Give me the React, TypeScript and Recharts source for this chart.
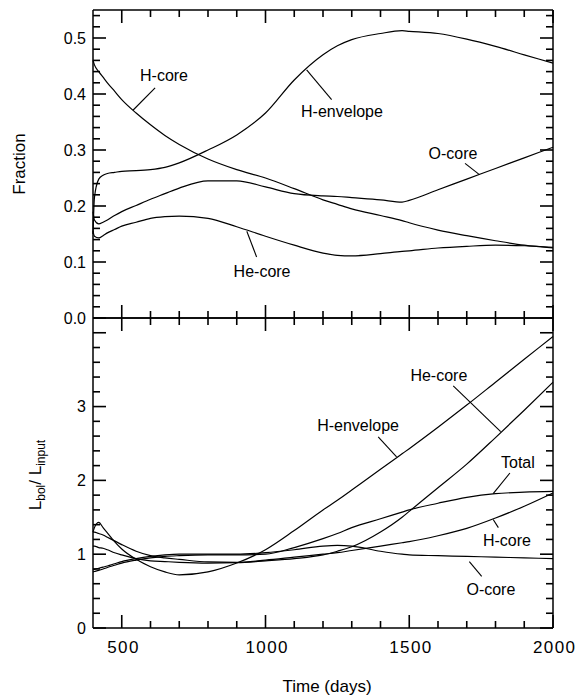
import React from 'react';
import { LineChart, Line, XAxis, YAxis, ReferenceLine, ReferenceDot } from 'recharts';

// shared time grid (days)
const TIME = [400, 405, 420, 435, 450, 475, 500, 550, 600, 650, 700, 800, 900, 1000, 1100, 1200, 1250, 1300, 1400, 1475, 1500, 1600, 1700, 1800, 1900, 2000];

// upper panel: Fraction
const FRAC_H_CORE = [0.46, 0.452, 0.44, 0.43, 0.42, 0.405, 0.39, 0.366, 0.345, 0.326, 0.31, 0.284, 0.265, 0.25, 0.231, 0.211, 0.203, 0.195, 0.183, 0.174, 0.17, 0.157, 0.147, 0.138, 0.13, 0.125];
const FRAC_H_ENV = [0.15, 0.215, 0.248, 0.255, 0.258, 0.26, 0.262, 0.263, 0.265, 0.269, 0.277, 0.3, 0.327, 0.366, 0.425, 0.47, 0.486, 0.497, 0.508, 0.513, 0.512, 0.508, 0.498, 0.485, 0.47, 0.455];
const FRAC_O_CORE = [0.19, 0.175, 0.168, 0.171, 0.175, 0.183, 0.19, 0.201, 0.212, 0.222, 0.232, 0.245, 0.245, 0.234, 0.222, 0.218, 0.217, 0.215, 0.211, 0.207, 0.21, 0.229, 0.248, 0.267, 0.286, 0.305];
const FRAC_HE_CORE = [0.155, 0.146, 0.143, 0.147, 0.152, 0.158, 0.164, 0.171, 0.178, 0.181, 0.182, 0.178, 0.163, 0.146, 0.13, 0.116, 0.112, 0.111, 0.115, 0.119, 0.12, 0.125, 0.128, 0.13, 0.129, 0.126];

// lower panel: L_bol / L_input
const LUM_H_ENV = [1.3, 1.36, 1.43, 1.36, 1.29, 1.17, 1.07, 0.93, 0.83, 0.76, 0.72, 0.76, 0.88, 1.06, 1.32, 1.6, 1.73, 1.87, 2.15, 2.36, 2.43, 2.72, 3.02, 3.33, 3.64, 3.95];
const LUM_H_CORE = [1.3, 1.3, 1.28, 1.26, 1.23, 1.18, 1.13, 1.04, 0.98, 0.95, 0.93, 0.895, 0.89, 0.92, 0.96, 1.0, 1.02, 1.05, 1.11, 1.155, 1.17, 1.25, 1.35, 1.49, 1.65, 1.83];
const LUM_HE_CORE = [1.11, 1.11, 1.09, 1.08, 1.06, 1.02, 0.99, 0.94, 0.91, 0.9, 0.89, 0.88, 0.885, 0.91, 0.94, 0.99, 1.04, 1.1, 1.3, 1.5, 1.58, 1.9, 2.22, 2.58, 2.95, 3.33];
const LUM_TOTAL = [0.76, 0.765, 0.78, 0.8, 0.82, 0.85, 0.88, 0.92, 0.95, 0.97, 0.98, 0.99, 0.99, 1.0, 1.09, 1.21, 1.28, 1.36, 1.48, 1.57, 1.6, 1.69, 1.77, 1.82, 1.84, 1.85];
const LUM_O_CORE = [0.79, 0.795, 0.81, 0.825, 0.84, 0.87, 0.9, 0.94, 0.97, 0.99, 1.0, 1.0, 1.0, 1.02, 1.06, 1.11, 1.12, 1.11, 1.04, 1.0, 0.99, 0.98, 0.97, 0.96, 0.95, 0.94];

// ticks
const X_TICKS = [500, 600, 700, 800, 900, 1000, 1100, 1200, 1300, 1400, 1500, 1600, 1700, 1800, 1900, 2000];
const FRAC_TICKS = [0, 0.02, 0.04, 0.06, 0.08, 0.1, 0.12, 0.14, 0.16, 0.18, 0.2, 0.22, 0.24, 0.26, 0.28, 0.3, 0.32, 0.34, 0.36, 0.38, 0.4, 0.42, 0.44, 0.46, 0.48, 0.5, 0.52, 0.54];
const LUM_TICKS = [0, 0.2, 0.4, 0.6, 0.8, 1, 1.2, 1.4, 1.6, 1.8, 2, 2.2, 2.4, 2.6, 2.8, 3, 3.2, 3.4, 3.6, 3.8, 4];
const LUM_LABELED = [0, 1, 2, 3];

// curve labels with leader lines (data coordinates)
const FRAC_NOTES = [
  { text: 'H-core', t: 647, v: 0.434, from: [616, 0.411], to: [539, 0.371] },
  { text: 'H-envelope', t: 1266, v: 0.37, from: [1230, 0.39], to: [1143, 0.443] },
  { text: 'O-core', t: 1652, v: 0.295, from: [1694, 0.276], to: [1744, 0.256] },
  { text: 'He-core', t: 988, v: 0.084, from: [969, 0.109], to: [935, 0.155] },
];
const LUM_NOTES = [
  { text: 'He-core', t: 1603, v: 3.43, from: [1653, 3.28], to: [1818, 2.66] },
  { text: 'H-envelope', t: 1322, v: 2.75, from: [1392, 2.59], to: [1456, 2.32] },
  { text: 'Total', t: 1878, v: 2.25, from: [1850, 2.1], to: [1792, 1.82] },
  { text: 'H-core', t: 1840, v: 1.19, from: [1810, 1.36], to: [1792, 1.47] },
  { text: 'O-core', t: 1784, v: 0.53, from: [1752, 0.7], to: [1709, 0.9] },
];

const FONT = '"Liberation Sans", Arial, Helvetica, sans-serif';
const INK = '#000';

const fracData = TIME.map((t, i) => ({
  t, hCore: FRAC_H_CORE[i], hEnv: FRAC_H_ENV[i], oCore: FRAC_O_CORE[i], heCore: FRAC_HE_CORE[i],
}));
const lumData = TIME.map((t, i) => ({
  t, hEnv: LUM_H_ENV[i], hCore: LUM_H_CORE[i], heCore: LUM_HE_CORE[i], total: LUM_TOTAL[i], oCore: LUM_O_CORE[i],
}));

const isMult = (v: number, step: number) => Math.abs(v / step - Math.round(v / step)) < 1e-6;

// inward tick mark on a horizontal axis, label below for the labelled axis
const XTickMark = (props: any) => {
  const { x, y, payload, side, withLabels } = props;
  const v = payload.value;
  const major = isMult(v, 500);
  const len = major ? 13 : 7;
  const dir = side === 'bottom' ? -1 : 1;
  return (
    <g>
      <line x1={x} x2={x} y1={y} y2={y + dir * len} stroke={INK} strokeWidth={1.6} />
      {withLabels && major ? (
        <text x={x + 1} y={y + 25} textAnchor="middle" fontSize={17} fontFamily={FONT} fill={INK}>{String(v).split('').join('\u200A')}</text>
      ) : null}
    </g>
  );
};

// inward tick mark on a vertical axis, label on the left when given
const YTickMark = (props: any) => {
  const { x, y, payload, side, majorStep, fmt } = props;
  const v = payload.value;
  const major = isMult(v, majorStep);
  const len = major ? 13 : 7;
  const dir = side === 'left' ? 1 : -1;
  const label = fmt ? fmt(v) : null;
  return (
    <g>
      <line x1={x} x2={x + dir * len} y1={y} y2={y} stroke={INK} strokeWidth={1.6} />
      {label !== null ? (
        <text x={x - 7} y={y} dy="0.36em" textAnchor="end" fontSize={16} fontFamily={FONT} fill={INK}>{label}</text>
      ) : null}
    </g>
  );
};

const axisLine = { stroke: INK, strokeWidth: 1.5 };

function notes(list: typeof LUM_NOTES) {
  const out: React.ReactNode[] = [];
  list.forEach((n, i) => {
    out.push(
      <ReferenceLine key={`l${i}`} xAxisId="x" yAxisId="y"
        segment={[{ x: n.from[0], y: n.from[1] }, { x: n.to[0], y: n.to[1] }]}
        stroke={INK} strokeWidth={1.1} />
    );
    out.push(
      <ReferenceDot key={`d${i}`} xAxisId="x" yAxisId="y" x={n.t} y={n.v} r={0}
        shape={(p: any) => (
          <text x={p.cx} y={p.cy} dy="0.36em" textAnchor="middle" fontSize={16} fontFamily={FONT} fill={INK}>{n.text}</text>
        )} />
    );
  });
  return out;
}

const lineProps = {
  type: 'monotone' as const,
  stroke: INK,
  strokeWidth: 1.2,
  dot: false,
  isAnimationActive: false,
  xAxisId: 'x',
  yAxisId: 'y',
};

// invisible series bound to the top/right frame axes so they get drawn
const frameProps = { ...lineProps, stroke: 'none', xAxisId: 'xt', yAxisId: 'yr' };

function FractionPanel() {
  return (
    <LineChart width={581} height={698} data={fracData} margin={{ top: 9, right: 27, bottom: 0, left: 0 }} style={{ position: 'absolute', left: 0, top: 0 }}>
      <XAxis xAxisId="x" dataKey="t" type="number" domain={[400, 2000]} ticks={X_TICKS} interval={0}
        height={380} tickSize={0} tickMargin={0} tickLine={false} axisLine={axisLine}
        tick={(p: any) => <XTickMark {...p} side="bottom" withLabels={false} />} />
      <XAxis xAxisId="xt" dataKey="t" orientation="top" type="number" domain={[400, 2000]} ticks={X_TICKS} interval={0}
        height={1} tickSize={0} tickMargin={0} tickLine={false} axisLine={axisLine}
        tick={(p: any) => <XTickMark {...p} side="top" withLabels={false} />} />
      <YAxis yAxisId="y" type="number" domain={[0, 0.55]} ticks={FRAC_TICKS} interval={0} width={93}
        tickSize={0} tickMargin={0} tickLine={false} axisLine={axisLine}
        tick={(p: any) => <YTickMark {...p} side="left" majorStep={0.1} fmt={(v: number) => (isMult(v, 0.1) ? v.toFixed(1) : null)} />}
        label={({ viewBox }: any) => (
          <text x={25} y={viewBox.y + viewBox.height / 2} transform={`rotate(-90 25 ${viewBox.y + viewBox.height / 2})`}
            textAnchor="middle" fontSize={17} fontFamily={FONT} fill={INK}>Fraction</text>
        )} />
      <YAxis yAxisId="yr" orientation="right" type="number" domain={[0, 0.55]} ticks={FRAC_TICKS} interval={0} width={1}
        tickSize={0} tickMargin={0} tickLine={false} axisLine={axisLine}
        tick={(p: any) => <YTickMark {...p} side="right" majorStep={0.1} />} />
      {notes(FRAC_NOTES)}
      <Line {...frameProps} dataKey="hCore" />
      <Line {...lineProps} dataKey="hCore" />
      <Line {...lineProps} dataKey="hEnv" />
      <Line {...lineProps} dataKey="oCore" />
      <Line {...lineProps} dataKey="heCore" />
    </LineChart>
  );
}

function LuminosityPanel() {
  return (
    <LineChart width={581} height={698} data={lumData} margin={{ top: 317, right: 27, bottom: 0, left: 0 }} style={{ position: 'absolute', left: 0, top: 0 }}>
      <XAxis xAxisId="x" dataKey="t" type="number" domain={[400, 2000]} ticks={X_TICKS} interval={0}
        height={70} tickSize={0} tickMargin={0} tickLine={false} axisLine={axisLine}
        tick={(p: any) => <XTickMark {...p} side="bottom" withLabels />}
        label={({ viewBox }: any) => (
          <text x={viewBox.x + viewBox.width / 2 + 4} y={viewBox.y + 64} textAnchor="middle" fontSize={17} fontFamily={FONT} fill={INK}>Time (days)</text>
        )} />
      <XAxis xAxisId="xt" dataKey="t" orientation="top" type="number" domain={[400, 2000]} ticks={X_TICKS} interval={0}
        height={1} tickSize={0} tickMargin={0} tickLine={false} axisLine={axisLine}
        tick={(p: any) => <XTickMark {...p} side="top" withLabels={false} />} />
      <YAxis yAxisId="y" type="number" domain={[0, 4.2]} ticks={LUM_TICKS} interval={0} width={93}
        tickSize={0} tickMargin={0} tickLine={false} axisLine={axisLine}
        tick={(p: any) => <YTickMark {...p} side="left" majorStep={1} fmt={(v: number) => (LUM_LABELED.includes(v) ? String(v) : null)} />}
        label={({ viewBox }: any) => {
          const cy = viewBox.y + viewBox.height / 2 + 2;
          return (
            <text x={41} y={cy} transform={`rotate(-90 41 ${cy})`} textAnchor="middle" fontSize={17} fontFamily={FONT} fill={INK}>
              <tspan>L</tspan>
              <tspan fontSize={12} dy={4}>bol</tspan>
              <tspan dy={-4}>/ L</tspan>
              <tspan fontSize={12} dy={4}>input</tspan>
            </text>
          );
        }} />
      <YAxis yAxisId="yr" orientation="right" type="number" domain={[0, 4.2]} ticks={LUM_TICKS} interval={0} width={1}
        tickSize={0} tickMargin={0} tickLine={false} axisLine={axisLine}
        tick={(p: any) => <YTickMark {...p} side="right" majorStep={1} />} />
      {notes(LUM_NOTES)}
      <Line {...frameProps} dataKey="hEnv" />
      <Line {...lineProps} dataKey="hEnv" />
      <Line {...lineProps} dataKey="hCore" />
      <Line {...lineProps} dataKey="heCore" />
      <Line {...lineProps} dataKey="total" />
      <Line {...lineProps} dataKey="oCore" />
    </LineChart>
  );
}

export default function App() {
  return (
    <div style={{ position: 'absolute', left: 0, top: 0, width: 581, height: 698, background: '#fff', fontFamily: FONT }}>
      <FractionPanel />
      <LuminosityPanel />
    </div>
  );
}
